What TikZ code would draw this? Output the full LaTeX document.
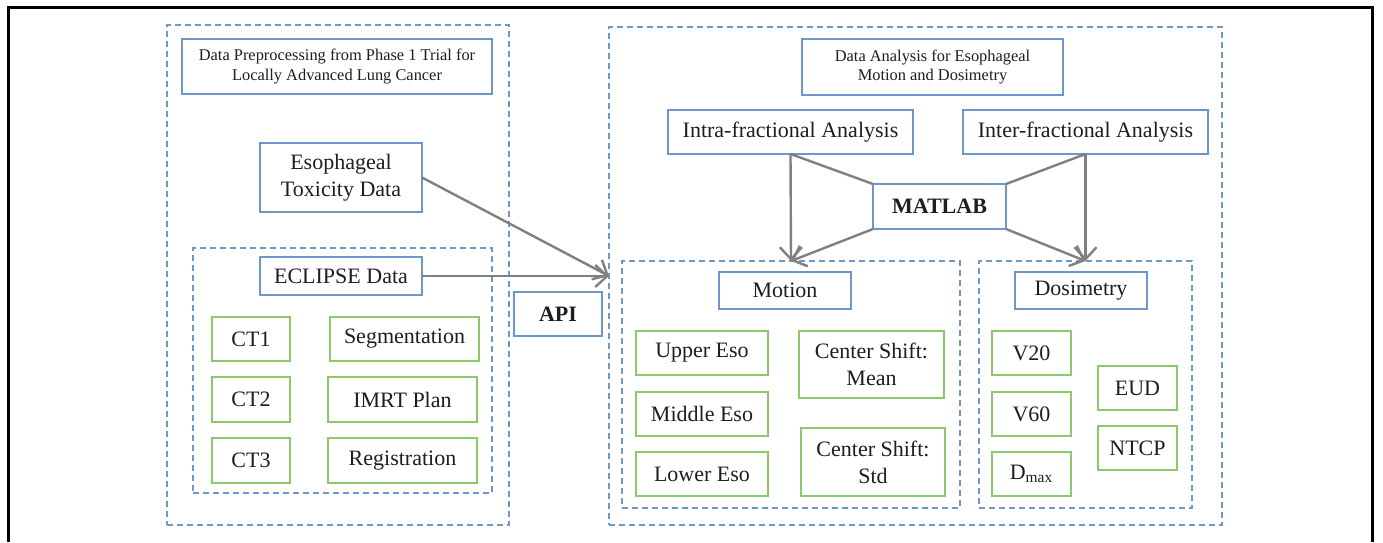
\documentclass[tikz,border=0pt]{standalone}
\usepackage{fontspec}
\setmainfont{Liberation Serif}
\usetikzlibrary{arrows.meta, positioning}
\definecolor{cblue}{HTML}{6E96C8}
\definecolor{cgreen}{HTML}{8CC96A}
\definecolor{cdash}{HTML}{6F98C6}
\definecolor{cgrey}{HTML}{808080}
\definecolor{ctext}{HTML}{1E1E1E}
\tikzset{
  every picture/.style={line width=1pt},
  box/.style={draw=#1, fill=white, text=ctext, align=center, inner sep=0pt, outer sep=0pt,
    font=\fontsize{11}{13.5}\selectfont},
  box/.default=cblue,
  title/.style={box, font=\fontsize{8.2}{9.6}\selectfont},
  area/.style={draw=cdash, dash pattern=on 3pt off 2pt, inner sep=0pt, outer sep=0pt},
  size/.style 2 args={minimum width=#1pt, minimum height=#2pt},
  arrow/.style={-{Straight Barb[length=6pt, width=11pt]}, draw=cgrey, line width=1.2pt},
  link/.style={draw=cgrey, line width=1.2pt},
}

\begin{document}
\begin{tikzpicture}[x=0.5pt, y=-0.5pt]
  \useasboundingbox (0,0) rectangle (1383,542);
  \draw[line width=1.5pt] (8,542) -- (8,7) -- (1372,7) -- (1372,542);
  \begin{scope}
    \node[area, size={171}{250}] (leftarea) at (338,275) {};
    \node[area, size={149.5}{122.5}] (eclarea) at (342.5,370.5) {};
    \node[title, size={155}{27.5}] (prep) at (337,66.5) {Data Preprocessing from Phase 1 Trial for\\Locally Advanced Lung Cancer};
    \node[box, size={81}{34.5}] (tox) at (341,177.5) {Esophageal\\Toxicity Data};
    \node[box, size={81}{19}] (eclipse) at (341,276) {ECLIPSE Data};
    \node[box=cgreen, size={39}{22}] (ct1) at (251,339) {CT1};
    \node[box=cgreen, size={39}{22.5}] (ct2) at (251,399.5) {CT2};
    \node[box=cgreen, size={39}{22.5}] (ct3) at (251,460.5) {CT3};
    \node[box=cgreen, size={74.5}{22}] (seg) at (404.5,339) {Segmentation};
    \node[box=cgreen, size={74.5}{22.5}] (imrt) at (402.5,399.5) {IMRT Plan};
    \node[box=cgreen, size={74.5}{22.5}] (reg) at (402.5,460.5) {Registration};
  \end{scope}
  \node[box, size={44}{22}, font=\fontsize{11}{13.5}\selectfont\bfseries] (api) at (558,314) {API};
  \begin{scope}
    \node[area, size={306.5}{249}] (rightarea) at (915.5,276) {};
    \node[area, size={169}{123.5}] (motionarea) at (791,384.5) {};
    \node[area, size={106.5}{123.5}] (dosarea) at (1085.5,384.5) {};
    \node[title, size={130.5}{28}] (analysis) at (932.5,67) {Data Analysis for Esophageal\\Motion and Dosimetry};
    \node[box, size={122.5}{22}] (intra) at (790.5,132) {Intra-fractional Analysis};
    \node[box, size={122.5}{22}] (inter) at (1085.5,132) {Inter-fractional Analysis};
    \node[box, size={66.5}{22.5}, font=\fontsize{11}{13.5}\selectfont\bfseries] (matlab) at (939.5,206.5) {MATLAB};
    \node[box, size={66}{18.5}] (motion) at (785,290.5) {Motion};
    \node[box=cgreen, size={66}{22}] (upper) at (702,353) {Upper Eso};
    \node[box=cgreen, size={66}{22}] (middle) at (702,414) {Middle Eso};
    \node[box=cgreen, size={66}{22}] (lower) at (702,474) {Lower Eso};
    \node[box=cgreen, size={72.5}{33.5}] (csmean) at (871.5,364.5) {Center Shift:\\Mean};
    \node[box=cgreen, size={72}{34}] (csstd) at (873,462) {Center Shift:\\Std};
    \node[box, size={66}{18.5}] (dosim) at (1081,290.5) {Dosimetry};
    \node[box=cgreen, size={39.5}{22}] (v20) at (1031.5,353) {V20};
    \node[box=cgreen, size={39.5}{22}] (v60) at (1031.5,414) {V60};
    \node[box=cgreen, size={39.5}{22}] (dmax) at (1031.5,474) {D\textsubscript{max}};
    \node[box=cgreen, size={39.5}{22}] (eud) at (1137.5,388) {EUD};
    \node[box=cgreen, size={39.5}{22}] (ntcp) at (1137.5,448) {NTCP};
  \end{scope}
  \draw[arrow] (tox.east) -- (rightarea.west);
  \draw[arrow] (eclipse.east) -- (rightarea.west);
  \draw[arrow] (intra.south) -- (motionarea.north);
  \draw[arrow] (inter.south) -- (dosarea.north);
  \draw[link] (intra.south) -- (matlab.north west);
  \draw[link] (inter.south) -- (matlab.north east);
  \draw[arrow] (matlab.south west) -- (motionarea.north);
  \draw[arrow] (matlab.south east) -- (dosarea.north);
\end{tikzpicture}
\end{document}
